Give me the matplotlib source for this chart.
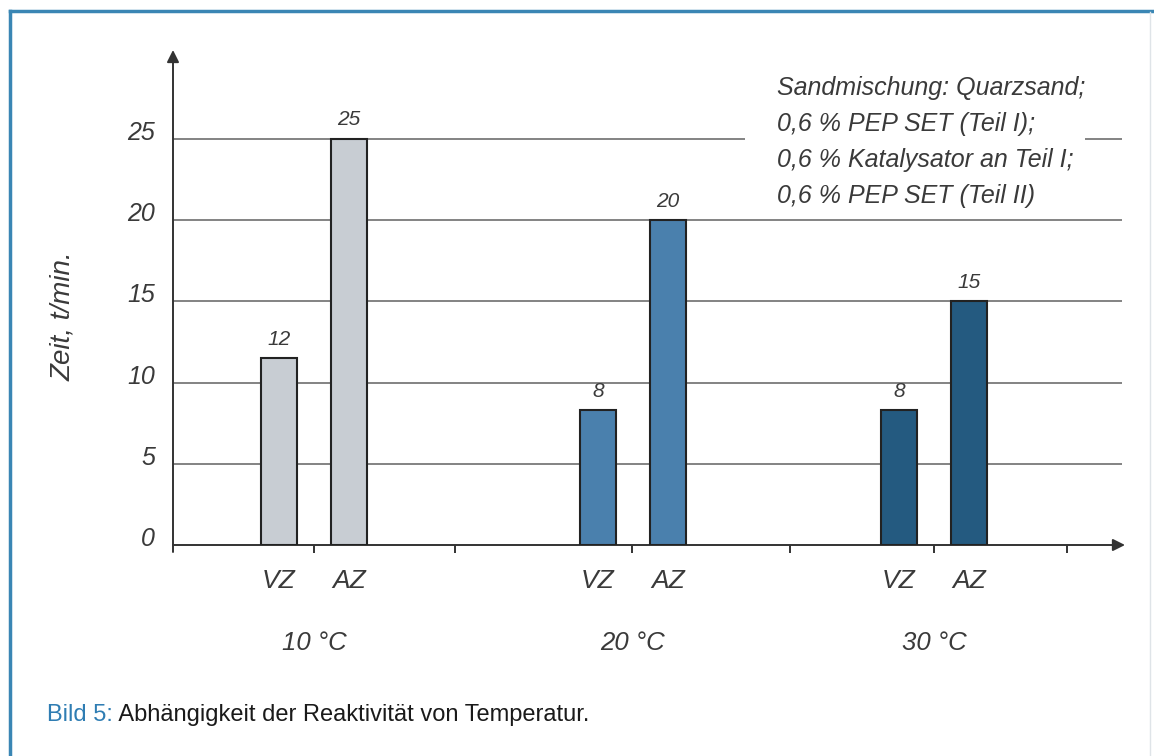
import matplotlib
matplotlib.use("Agg")
import matplotlib.pyplot as plt
from matplotlib.lines import Line2D

# ---- data ----
temperatures = ["10 °C", "20 °C", "30 °C"]
bar_kinds = ["VZ", "AZ"]
vz_values = [11.5, 8.3, 8.3]
az_values = [25, 20, 15]
vz_labels = ["12", "8", "8"]
az_labels = ["25", "20", "15"]
y_ticks = [0, 5, 10, 15, 20, 25]
y_label = "Zeit, t/min."
note_lines = ["Sandmischung: Quarzsand;",
              "0,6 % PEP SET (Teil I);",
              "0,6 % Katalysator an Teil I;",
              "0,6 % PEP SET (Teil II)"]
caption_prefix = "Bild 5:"
caption_text = " Abhängigkeit der Reaktivität von Temperatur."

# ---- style / layout ----
W, H = 1154, 756
group_colors = ["#c8cdd3", "#4a80ad", "#245a80"]
group_pos = [141, 460, 761]
bar_offset = 35
bar_width = 36
sep_ticks = [141, 282, 459, 617, 761, 894]
txt_col = "#3a3a3a"
grid_col = "#6e6e6e"
ifont = dict(family=["Liberation Sans", "DejaVu Sans"], style="italic", color=txt_col)

fig = plt.figure(figsize=(W / 100, H / 100), dpi=100)
fig.patch.set_facecolor("white")

# frame
fig.add_artist(Line2D([10 / W, 1], [1 - 11 / H, 1 - 11 / H], color="#3a86b4", lw=2.5))
fig.add_artist(Line2D([10 / W, 10 / W], [0, 1 - 11 / H], color="#3a86b4", lw=2.5))
fig.add_artist(Line2D([1150 / W, 1150 / W], [0, 1 - 12 / H], color="#dfe4e8", lw=1))

px_per_unit = 16.24
ax = fig.add_axes([173 / W, 211 / H, 952 / W, 495 / H])
ax.set_xlim(0, 952)
ax.set_ylim(0, 495 / px_per_unit)
ax.axis("off")

def dy(px):
    return px / px_per_unit

# gridlines
for v in y_ticks[1:-1]:
    ax.hlines(v, 0, 949, color=grid_col, lw=1.2, zorder=1)
ax.hlines(25, 0, 572, color=grid_col, lw=1.2, zorder=1)
ax.hlines(25, 912, 949, color=grid_col, lw=1.2, zorder=1)

# axes arrows
ax.annotate("", xy=(952, 0), xytext=(0, 0),
            arrowprops=dict(arrowstyle="-|>", lw=1.4, color="#333333", mutation_scale=18,
                            shrinkA=0, shrinkB=0), annotation_clip=False)
ax.annotate("", xy=(0, 495 / px_per_unit), xytext=(0, -dy(7)),
            arrowprops=dict(arrowstyle="-|>", lw=1.4, color="#333333", mutation_scale=18,
                            shrinkA=0, shrinkB=0), annotation_clip=False)

# separator ticks
for t in sep_ticks:
    ax.plot([t, t], [0, -dy(8)], color="#333333", lw=1.4, clip_on=False, solid_capstyle="butt")

# y tick labels
for v in y_ticks:
    ax.text(-18, v + dy(6), str(v), ha="right", va="center", fontsize=18, **ifont)

# bars
for i, g in enumerate(group_pos):
    xs = [g - bar_offset, g + bar_offset]
    vals = [vz_values[i], az_values[i]]
    labs = [vz_labels[i], az_labels[i]]
    ax.bar(xs, vals, width=bar_width, color=group_colors[i], edgecolor="#222222",
           linewidth=1.5, zorder=3)
    for x, v, lab, kind in zip(xs, vals, labs, bar_kinds):
        ax.text(x, v + dy(19), lab, ha="center", va="center", fontsize=15, **ifont)
        ax.text(x, -dy(36), kind, ha="center", va="center", fontsize=19, **ifont)
    ax.text(g, -dy(98), temperatures[i], ha="center", va="center", fontsize=18.5, **ifont)

# y axis label
fig.text(63 / W, 1 - 316 / H, y_label, rotation=90, ha="center", va="center", fontsize=20, **ifont)

# note text
for k, line in enumerate(note_lines):
    fig.text(777 / W, 1 - (88 + 36 * k) / H, line, ha="left", va="center", fontsize=18, **ifont)

# caption
cap = fig.text(47 / W, 1 - 715 / H, caption_prefix, ha="left", va="center", fontsize=17,
               family=["Liberation Sans Narrow", "Liberation Sans", "DejaVu Sans"], color="#2f7db3")
fig.canvas.draw()
bb = cap.get_window_extent()
fig.text(bb.x1 / W, 1 - 715 / H, caption_text, ha="left", va="center", fontsize=17,
         family=["Liberation Sans Narrow", "Liberation Sans", "DejaVu Sans"], color="#1a1a1a")

fig.savefig("out.png", dpi=100, facecolor="white")
